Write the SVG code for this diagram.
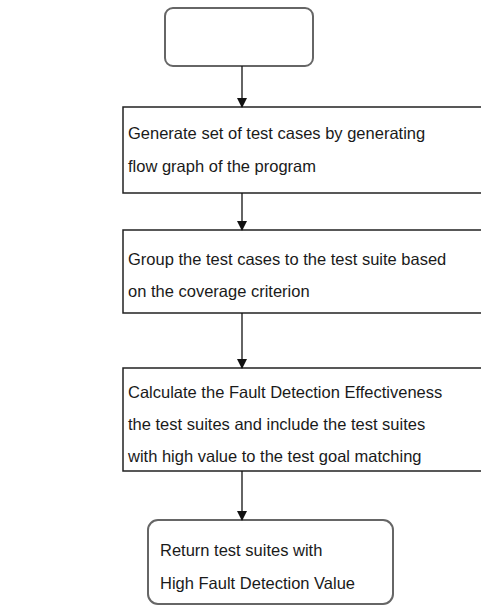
<svg xmlns="http://www.w3.org/2000/svg" width="481" height="606" viewBox="0 0 481 606">
<style>
.t{font-family:"Liberation Sans",Arial,sans-serif;font-size:16.5px;fill:#1a1a1a}
.box{fill:#fff;stroke:#222;stroke-width:1.5}
.rbox{fill:#fff;stroke:#666;stroke-width:2}
.con{stroke:#111;stroke-width:1.3;fill:none;marker-end:url(#ah)}
</style>
<defs>
<marker id="ah" markerWidth="10" markerHeight="10" refX="9" refY="5" orient="auto" markerUnits="userSpaceOnUse">
<path d="M0,0 L10,5 L0,10 Z" fill="#111"/>
</marker>
</defs>
<rect width="481" height="606" fill="#fff"/>
<g id="start"><rect class="rbox" x="165" y="8" width="148" height="58" rx="8"/></g>
<g id="step1">
<path class="box" d="M482,107 H123 V193 H482"/>
<text class="t" x="128" y="139">Generate set of test cases by generating</text>
<text class="t" x="128" y="172">flow graph of the program</text>
</g>
<g id="step2">
<path class="box" d="M482,230 H123 V313 H482"/>
<text class="t" x="128" y="265">Group the test cases to the test suite based</text>
<text class="t" x="128" y="297">on the coverage criterion</text>
</g>
<g id="step3">
<path class="box" d="M482,368 H123 V471 H482"/>
<text class="t" x="128" y="398">Calculate the Fault Detection Effectiveness</text>
<text class="t" x="128" y="430">the test suites and include the test suites</text>
<text class="t" x="128" y="462">with high value to the test goal matching</text>
</g>
<g id="end">
<rect class="rbox" x="148" y="520" width="245" height="84" rx="10"/>
<text class="t" x="160" y="556">Return test suites with</text>
<text class="t" x="160" y="589">High Fault Detection Value</text>
</g>
<g id="connectors">
<line class="con" x1="242" y1="66" x2="242" y2="107"/>
<line class="con" x1="242" y1="193" x2="242" y2="230"/>
<line class="con" x1="242" y1="313" x2="242" y2="368"/>
<line class="con" x1="242" y1="471" x2="242" y2="520"/>
</g>
</svg>
